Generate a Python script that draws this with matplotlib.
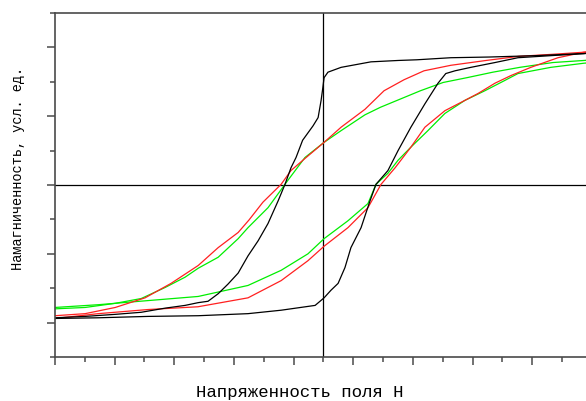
"""Hysteresis loops (black, red, green) on a plain magnetisation vs. field frame."""

import matplotlib
matplotlib.use("Agg")
import matplotlib.pyplot as plt
from matplotlib.ticker import MultipleLocator, NullFormatter

# field H (arbitrary units) and magnetisation (arbitrary units)
black_up_x = [9.0, 8.73, 7.1, 5.55, 4.27, 3.13, 2.5, 1.59, 0.59, 0.15, 0.02, -0.02, -0.08, -0.18,
              -0.35, -0.7, -0.92, -1.09, -1.29, -1.52, -1.86, -2.19, -2.53, -2.86, -3.2, -3.53,
              -3.87, -4.2, -4.64, -5.31, -6.11, -6.98, -7.99, -9.0]
black_up_y = [1.92, 1.91, 1.88, 1.86, 1.85, 1.82, 1.81, 1.79, 1.71, 1.64, 1.56, 1.42, 1.23, 0.98,
              0.86, 0.65, 0.40, 0.25, 0.01, -0.23, -0.56, -0.81, -1.03, -1.28, -1.44, -1.58,
              -1.69, -1.71, -1.75, -1.79, -1.85, -1.88, -1.91, -1.93]
black_lo_x = [-9.0, -7.55, -5.88, -4.2, -2.53, -1.42, -0.28, 0.02, 0.25, 0.49, 0.72, 0.92, 1.26,
              1.56, 1.76, 2.16, 2.5, 2.93, 3.4, 3.84, 4.1, 4.41, 4.94, 5.75, 6.52, 7.62, 8.73, 9.0]
black_lo_y = [-1.94, -1.93, -1.91, -1.90, -1.87, -1.82, -1.75, -1.64, -1.53, -1.43, -1.20, -0.91,
              -0.62, -0.23, 0.01, 0.21, 0.50, 0.84, 1.18, 1.48, 1.62, 1.66, 1.71, 1.78, 1.85,
              1.88, 1.91, 1.92]

red_up_x = [9.0, 8.73, 7.69, 6.55, 5.45, 4.27, 3.37, 2.7, 2.03, 1.39, 0.59, 0.02, -0.69, -1.09,
            -1.42, -2.03, -2.5, -2.86, -3.53, -4.2, -5.11, -5.98, -6.98, -7.99, -9.0]
red_up_y = [1.94, 1.93, 1.90, 1.87, 1.81, 1.74, 1.66, 1.53, 1.37, 1.10, 0.84, 0.62, 0.36, 0.21,
            0.01, -0.25, -0.51, -0.69, -0.91, -1.17, -1.43, -1.64, -1.78, -1.87, -1.90]
red_lo_x = [-9.0, -7.55, -5.88, -4.21, -2.53, -1.42, -0.52, 0.02, 0.82, 1.49, 1.93, 2.4, 2.93,
            3.4, 4.07, 4.74, 5.18, 5.75, 6.28, 6.95, 7.86, 8.73, 9.0]
red_lo_y = [-1.94, -1.87, -1.81, -1.77, -1.64, -1.39, -1.10, -0.89, -0.62, -0.33, 0.01, 0.25,
            0.55, 0.84, 1.08, 1.23, 1.33, 1.48, 1.59, 1.71, 1.85, 1.93, 1.94]

green_up_x = [9.0, 8.73, 7.69, 6.58, 5.68, 4.81, 4.01, 3.25, 2.58, 1.91, 1.39, 0.59, 0.02, -0.62,
              -1.19, -1.86, -2.53, -2.86, -3.53, -4.2, -4.64, -5.31, -6.11, -6.98, -7.99, -9.0]
green_up_y = [1.82, 1.81, 1.78, 1.71, 1.64, 1.56, 1.49, 1.37, 1.25, 1.13, 1.02, 0.79, 0.62, 0.40,
              0.07, -0.33, -0.62, -0.78, -1.05, -1.21, -1.34, -1.49, -1.65, -1.72, -1.78, -1.80]
green_lo_x = [-9.0, -7.55, -5.88, -4.2, -2.53, -1.42, -0.52, 0.02, 0.82, 1.49, 1.76, 2.16, 2.5,
              2.93, 3.5, 4.07, 4.74, 5.41, 6.08, 6.52, 7.62, 8.73, 9.0]
green_lo_y = [-1.78, -1.74, -1.68, -1.62, -1.46, -1.24, -1.00, -0.78, -0.52, -0.27, 0.01, 0.17,
              0.36, 0.55, 0.79, 1.04, 1.23, 1.37, 1.52, 1.62, 1.71, 1.77, 1.78]

SPINE = "#4a4a4a"

fig = plt.figure(figsize=(5.86, 4.01), dpi=100)
ax = fig.add_axes([55 / 586, 44 / 401, 531 / 586, 344 / 401])

ax.axhline(0, color="black", lw=0.9, zorder=1)
ax.axvline(0, color="black", lw=0.9, zorder=1)

for xs, ys, c in [
    (green_up_x, green_up_y, "#00ee00"), (green_lo_x, green_lo_y, "#00ee00"),
    (red_up_x, red_up_y, "#ff2020"), (red_lo_x, red_lo_y, "#ff2020"),
    (black_up_x, black_up_y, "black"), (black_lo_x, black_lo_y, "black"),
]:
    ax.plot(xs, ys, color=c, lw=0.9, zorder=2)

ax.set_xlim(-9, 8.8)
ax.set_ylim(-2.5, 2.5)

ax.xaxis.set_major_locator(MultipleLocator(2, offset=1))
ax.xaxis.set_minor_locator(MultipleLocator(2))
ax.yaxis.set_major_locator(MultipleLocator(1))
ax.yaxis.set_minor_locator(MultipleLocator(1, offset=0.5))
for axis in (ax.xaxis, ax.yaxis):
    axis.set_major_formatter(NullFormatter())
    axis.set_minor_formatter(NullFormatter())
ax.tick_params(which="major", length=6, width=1.1, color=SPINE, direction="out")
ax.tick_params(which="minor", length=3.5, width=1.1, color=SPINE, direction="out")

ax.spines["right"].set_visible(False)
for side in ("top", "bottom", "left"):
    ax.spines[side].set_color(SPINE)
    ax.spines[side].set_linewidth(1.2)

fig.text(300 / 586, 1 - 393 / 401, "Напряженность поля H", ha="center", va="center",
         family="Liberation Mono", fontsize=12.5)
fig.text(18 / 586, 1 - 168 / 401, "Намагниченность, усл. ед.", ha="center", va="center",
         rotation=90, family="Liberation Mono", fontsize=9.8)

fig.savefig("out.png", dpi=100)
